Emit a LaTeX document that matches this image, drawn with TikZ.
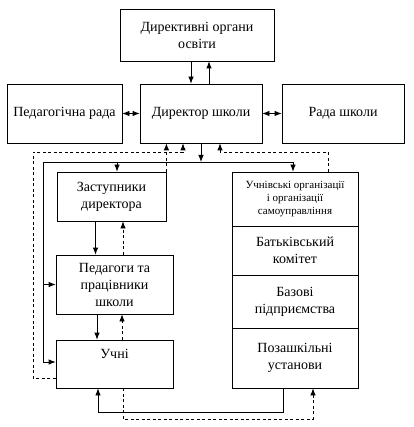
\documentclass[tikz,border=0pt]{standalone}
\usepackage{fontspec}
\setmainfont{Liberation Serif}
\usetikzlibrary{positioning,calc,arrows.meta}

\tikzset{
    block/.style={draw, line width=0.8pt, align=center, inner sep=2pt,
        font=\fontsize{14}{17}\selectfont},
    small/.style={font=\fontsize{11}{13}\selectfont},
    link/.style={line width=0.8pt, -{Latex[length=7pt,width=5.5pt]}},
    twoway/.style={line width=0.8pt, {Latex[length=7pt,width=5.5pt]}-{Latex[length=7pt,width=5.5pt]}},
    back/.style={link, dashed, dash pattern=on 3pt off 2.5pt}
}

\begin{document}
\begin{tikzpicture}[x=1pt,y=-1pt]
    \useasboundingbox (0,0) rectangle (413,427);

    % top of the chart
    \node [block, minimum width=154, minimum height=52] (organs) at (197,35) {Директивні органи\\освіти};
    \node [block, minimum width=115, minimum height=59] (pedrada) at (64.5,113.5) {Педагогічна рада};
    \node [block, minimum width=122, minimum height=59] (director) at (201,113.5) {Директор школи};
    \node [block, minimum width=122, minimum height=59] (rada) at (343,113.5) {Рада школи};

    % left column
    \node [block, minimum width=109, minimum height=49] (deputies) at (111.5,196.5) {Заступники\\директора};
    \node [block, minimum width=117, minimum height=59] (teachers) at (114.5,284.5) {Педагоги та\\працівники\\школи};
    \node [block, minimum width=117, minimum height=48, text depth=20pt] (pupils) at (114.5,364) {Учні};

    % right column
    \node [block, small, minimum width=126, minimum height=54] (pupilorg) at (295,199) {Учнівські організації\\і організації\\самоуправління};
    \node [block, minimum width=126, minimum height=49] (parents) at (295,250.5) {Батьківський\\комітет};
    \node [block, minimum width=126, minimum height=53] (firms) at (295,301.5) {Базові\\підприємства};
    \node [block, minimum width=126, minimum height=60] (outside) at (295,358) {Позашкільні\\установи};

    \coordinate (busL) at (43,162);
    \coordinate (busR) at (293,162);
    \coordinate (loopL) at (33,152);
    \coordinate (bottom) at (98,412);
    \coordinate (bottomD) at (123,419);

    % director and the bodies round him
    \draw [link] ([xshift=-10pt]director.north |- organs.south) -- ([xshift=-10pt]director.north);
    \draw [link] ([xshift=8pt]director.north) -- ([xshift=8pt]director.north |- organs.south);
    \draw [twoway] (pedrada.east) -- (director.west);
    \draw [twoway] (director.east) -- (rada.west);

    % orders going down
    \draw [link] (director.south) -- (director.south |- busL);
    \draw [line width=0.8pt] (busL) -- (busR);
    \draw [link] (busR) -- (busR |- pupilorg.north);
    \draw [link] ([xshift=5.5pt]deputies.north |- busL) -- ([xshift=5.5pt]deputies.north);
    \draw [link] (busL) |- (teachers.west);
    \draw [link] (busL) |- ([yshift=2pt]pupils.west);
    \draw [link] ([xshift=-16pt]deputies.south) -- ([xshift=-16pt]deputies.south |- teachers.north);
    \draw [link] ([xshift=-17.5pt]teachers.south) -- ([xshift=-17.5pt]teachers.south |- pupils.north);
    \draw [link] ([xshift=-12pt]outside.south) |- (bottom) -- (bottom |- pupils.south);

    % reports going up
    \draw [back] (deputies.north east) -- (deputies.north east |- director.south);
    \draw [back] ([yshift=-14pt]pupils.west) -| (loopL) -| ([xshift=-18pt]director.south);
    \draw [back] ([xshift=33pt]pupilorg.north) |- ([xshift=19pt]director.south |- loopL) -- ([xshift=19pt]director.south);
    \draw [back] ([xshift=8.5pt]teachers.north) -- ([xshift=8.5pt]teachers.north |- deputies.south);
    \draw [back] ([xshift=7.5pt]pupils.north) -- ([xshift=7.5pt]pupils.north |- teachers.south);
    \draw [back] (bottomD |- pupils.south) -- (bottomD) -| ([xshift=18pt]outside.south);
\end{tikzpicture}
\end{document}
